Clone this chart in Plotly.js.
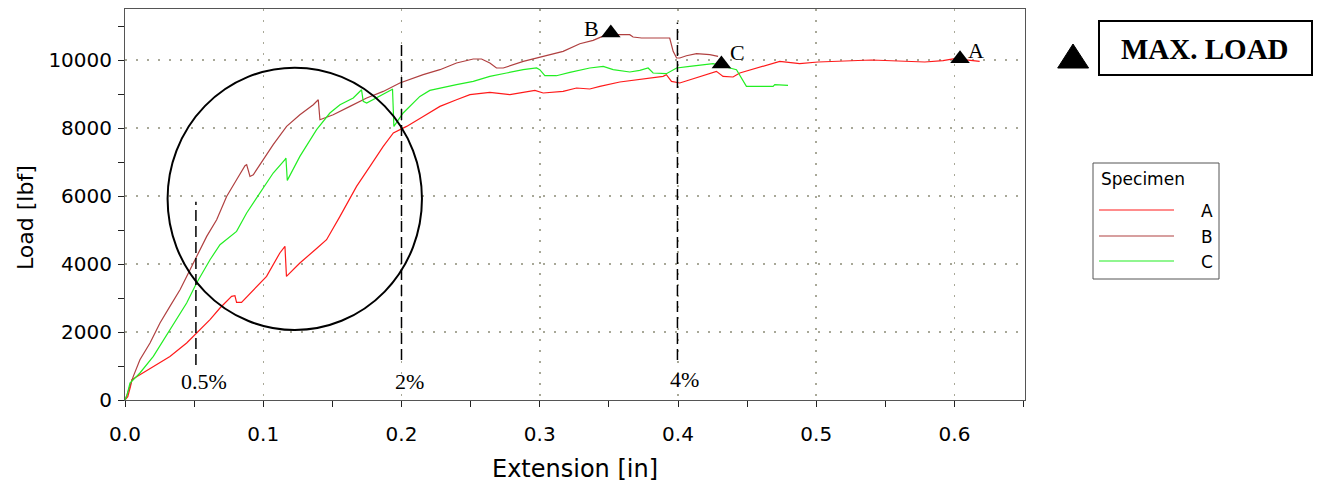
<!DOCTYPE html>
<html>
<head>
<meta charset="utf-8">
<script src="https://cdn.plot.ly/plotly-3.0.1.min.js"></script>
<style>html,body{margin:0;padding:0;background:#fff;}#chart{width:1319px;height:486px;}</style>
</head>
<body>
<div id="chart"></div>
<script>
// Specimen A
const extA = [0, 0.002, 0.004, 0.005, 0.009, 0.0205, 0.0325, 0.0446, 0.0518, 0.0615, 0.0687, 0.0771, 0.0795, 0.0807, 0.0843, 0.0928, 0.1024, 0.112, 0.1157, 0.1168, 0.1265, 0.139, 0.1458, 0.1555, 0.1675, 0.1772, 0.1868, 0.1941, 0.2037, 0.2157, 0.2278, 0.2398, 0.2495, 0.2639, 0.2784, 0.2965, 0.3025, 0.3169, 0.3266, 0.3362, 0.3435, 0.3579, 0.3724, 0.3892, 0.3916, 0.3953, 0.4013, 0.4134, 0.4254, 0.4278, 0.4326, 0.4398, 0.4447, 0.4567, 0.4736, 0.488, 0.5013, 0.54, 0.5785, 0.5917, 0.6001, 0.6182];
const loadA = [0, 100, 400, 600, 700, 988, 1282, 1676, 1970, 2362, 2706, 3047, 3068, 2871, 2871, 3244, 3635, 4324, 4518, 3635, 4029, 4471, 4715, 5400, 6282, 6871, 7459, 7853, 8047, 8341, 8635, 8832, 8979, 9047, 8979, 9106, 9029, 9077, 9176, 9147, 9224, 9353, 9421, 9518, 9568, 9371, 9324, 9471, 9618, 9665, 9518, 9500, 9618, 9765, 9959, 9891, 9941, 10000, 9941, 9980, 10038, 9959];
// Specimen B
const extB = [0, 0.001, 0.006, 0.0108, 0.0181, 0.0253, 0.0325, 0.0398, 0.0446, 0.0518, 0.0591, 0.0663, 0.0735, 0.0807, 0.0868, 0.088, 0.0904, 0.0928, 0.1, 0.1072, 0.1169, 0.1265, 0.1362, 0.1398, 0.141, 0.1506, 0.1627, 0.1748, 0.1868, 0.1988, 0.2157, 0.2278, 0.2398, 0.2519, 0.2579, 0.2639, 0.2687, 0.2736, 0.2881, 0.305, 0.3169, 0.329, 0.3386, 0.3483, 0.3651, 0.3675, 0.3736, 0.394, 0.3965, 0.399, 0.4013, 0.4061, 0.4134, 0.423, 0.429];
const loadB = [0, 100, 694, 1185, 1676, 2265, 2753, 3244, 3635, 4224, 4812, 5303, 5988, 6479, 6891, 6921, 6576, 6626, 7068, 7509, 8047, 8391, 8685, 8832, 8244, 8391, 8635, 8882, 9076, 9324, 9568, 9715, 9912, 10029, 10029, 9912, 9765, 9765, 9959, 10126, 10253, 10479, 10577, 10744, 10744, 10676, 10647, 10647, 10253, 10059, 10059, 10126, 10185, 10156, 10106];
// Specimen C
const extC = [0, 0.0015, 0.0036, 0.0108, 0.0205, 0.0325, 0.0446, 0.0518, 0.0615, 0.0687, 0.0759, 0.0807, 0.088, 0.0976, 0.1072, 0.1157, 0.1164, 0.1174, 0.1265, 0.1386, 0.1482, 0.1555, 0.1651, 0.1711, 0.1723, 0.1748, 0.182, 0.1928, 0.1935, 0.1945, 0.2012, 0.2133, 0.2205, 0.2278, 0.2398, 0.2519, 0.2639, 0.276, 0.288, 0.2977, 0.3, 0.3037, 0.3121, 0.3218, 0.3362, 0.3459, 0.3531, 0.3651, 0.3724, 0.3784, 0.382, 0.3916, 0.399, 0.4085, 0.4254, 0.4375, 0.4423, 0.4495, 0.4688, 0.47, 0.4796];
const loadC = [0, 150, 500, 794, 1282, 2068, 2853, 3441, 4126, 4568, 4812, 4959, 5500, 6088, 6676, 7068, 7118, 6459, 7165, 7950, 8441, 8685, 8882, 9126, 8782, 8735, 8882, 9126, 9147, 8047, 8441, 8929, 9106, 9176, 9274, 9371, 9518, 9618, 9715, 9765, 9715, 9538, 9538, 9635, 9765, 9812, 9715, 9647, 9694, 9765, 9618, 9597, 9765, 9812, 9891, 9765, 9715, 9224, 9224, 9274, 9253];
// Max load points
const maxLabels = ['A', 'B', 'C'];
const maxExt = [0.604, 0.3514, 0.4314];
const maxLoad = [10040, 10794, 9885];
// Strain reference lines
const strainLabels = ['0.5%', '2%', '4%'];
const strainExt = [0.0513, 0.2, 0.3996];
const strainTop = [5830, 10590, 11100];
const strainBottom = [1030, 1180, 1180];
const specimenNames = ['A', 'B', 'C'];
const specimenColors = ['#ff1a1a', '#b04040', '#22ee22'];

const serif = 'Liberation Serif, Times New Roman, serif';
const sans = 'DejaVu Sans, Verdana, sans-serif';

const traces = [
  {x: extA, y: loadA, name: 'A', mode: 'lines', line: {color: specimenColors[0], width: 1.2}},
  {x: extB, y: loadB, name: 'B', mode: 'lines', line: {color: specimenColors[1], width: 1.2}},
  {x: extC, y: loadC, name: 'C', mode: 'lines', line: {color: specimenColors[2], width: 1.2}},
  {x: maxExt, y: maxLoad, mode: 'markers', text: maxLabels,
   marker: {symbol: 'triangle-up', size: 17, color: '#000'}, cliponaxis: false}
];

const px = v => (v - 125) / 900;
const py = v => (400 - v) / 391;

const shapes = [];
const annotations = [];
// max-load labels next to the markers
const labShiftX = [16, -19, 16];
const labShiftY = [8, 5, 11];
maxLabels.forEach((t, i) => {
  annotations.push({x: maxExt[i], y: maxLoad[i], xref: 'x', yref: 'y', text: t, showarrow: false,
    xanchor: 'center', yanchor: 'middle', xshift: labShiftX[i], yshift: labShiftY[i],
    font: {family: serif, size: 22, color: '#000'}});
});
strainExt.forEach((x, i) => {
  shapes.push({type: 'line', xref: 'x', yref: 'y', x0: x, x1: x, y0: strainBottom[i], y1: strainTop[i],
    line: {color: '#000', width: 1.5, dash: '11px,5px'}});
});
const strainLabX = [0.0571, 0.206, 0.405];
const strainLabY = [538, 538, 597];
strainLabels.forEach((t, i) => {
  annotations.push({x: strainLabX[i], y: strainLabY[i], xref: 'x', yref: 'y', text: t, showarrow: false,
    xanchor: 'center', yanchor: 'middle', font: {family: serif, size: 22, color: '#000'}});
});
// circle highlight
shapes.push({type: 'circle', xref: 'x', yref: 'y', x0: 0.0308, x1: 0.2148, y0: 2059, y1: 9774, line: {color: '#000', width: 2}});
// MAX. LOAD key
shapes.push({type: 'path', xref: 'paper', yref: 'paper',
  path: `M ${px(1057.7)} ${py(68)} L ${px(1088.6)} ${py(68)} L ${px(1073)} ${py(44)} Z`,
  fillcolor: '#000', line: {color: '#000', width: 1}});
shapes.push({type: 'rect', xref: 'paper', yref: 'paper', x0: px(1099), x1: px(1312), y0: py(75), y1: py(21),
  line: {color: '#000', width: 2}});
annotations.push({xref: 'paper', yref: 'paper', x: px(1205), y: py(49), xanchor: 'center', yanchor: 'middle',
  text: '<b>MAX. LOAD</b>', showarrow: false, font: {family: serif, size: 29, color: '#000'}});
// Specimen legend
shapes.push({type: 'rect', xref: 'paper', yref: 'paper', x0: px(1093), x1: px(1219), y0: py(279), y1: py(163),
  line: {color: '#555', width: 1}});
annotations.push({xref: 'paper', yref: 'paper', x: px(1099), y: py(179), xanchor: 'left', yanchor: 'middle',
  text: 'Specimen', showarrow: false, font: {family: sans, size: 17, color: '#000'}});
const legY = [210, 236, 261];
specimenNames.forEach((n, i) => {
  shapes.push({type: 'line', xref: 'paper', yref: 'paper', x0: px(1099), x1: px(1174), y0: py(legY[i]), y1: py(legY[i]),
    line: {color: specimenColors[i], width: 1.2}});
  annotations.push({xref: 'paper', yref: 'paper', x: px(1215), y: py(legY[i] + 1), xanchor: 'right', yanchor: 'middle',
    text: n, showarrow: false, font: {family: sans, size: 17, color: '#000'}});
});
// y-axis title (placed as in the reference, slightly below plot centre)
annotations.push({xref: 'paper', yref: 'paper', x: px(25), y: py(218), xanchor: 'center', yanchor: 'middle',
  textangle: -90, text: 'Load [lbf]', showarrow: false, font: {family: sans, size: 22, color: '#000'}});

const layout = {
  width: 1319, height: 486,
  margin: {l: 125, r: 294, t: 9, b: 86},
  paper_bgcolor: '#fff', plot_bgcolor: '#fff',
  showlegend: false,
  font: {family: sans, size: 19, color: '#000'},
  xaxis: {
    range: [0, 0.651], dtick: 0.1, tick0: 0, tickformat: '.1f',
    showline: true, linecolor: '#555', linewidth: 1, mirror: true,
    ticks: 'outside', ticklen: 6, tickcolor: '#222', ticklabelstandoff: 10,
    minor: {dtick: 0.05, ticks: 'outside', ticklen: 6, tickcolor: '#222', showgrid: false},
    showgrid: true, gridcolor: '#a8a898', griddash: '2px,9px', gridwidth: 1.5,
    zeroline: false, automargin: false,
    tickfont: {family: sans, size: 20},
    title: {text: 'Extension [in]', font: {family: sans, size: 24}, standoff: 15}
  },
  yaxis: {
    range: [0, 11500], dtick: 2000, tick0: 0, tickformat: 'd', exponentformat: 'none', separatethousands: false,
    showline: true, linecolor: '#555', linewidth: 1, mirror: true,
    ticks: 'outside', ticklen: 6, tickcolor: '#222', ticklabelstandoff: 2,
    minor: {dtick: 1000, ticks: 'outside', ticklen: 6, tickcolor: '#222', showgrid: false},
    showgrid: true, gridcolor: '#a8a898', griddash: '2px,9px', gridwidth: 1.5,
    zeroline: false, automargin: false,
    tickfont: {family: sans, size: 20}
  },
  shapes: shapes,
  annotations: annotations
};

Plotly.newPlot('chart', traces, layout, {staticPlot: true, displayModeBar: false});
</script>
</body>
</html>
